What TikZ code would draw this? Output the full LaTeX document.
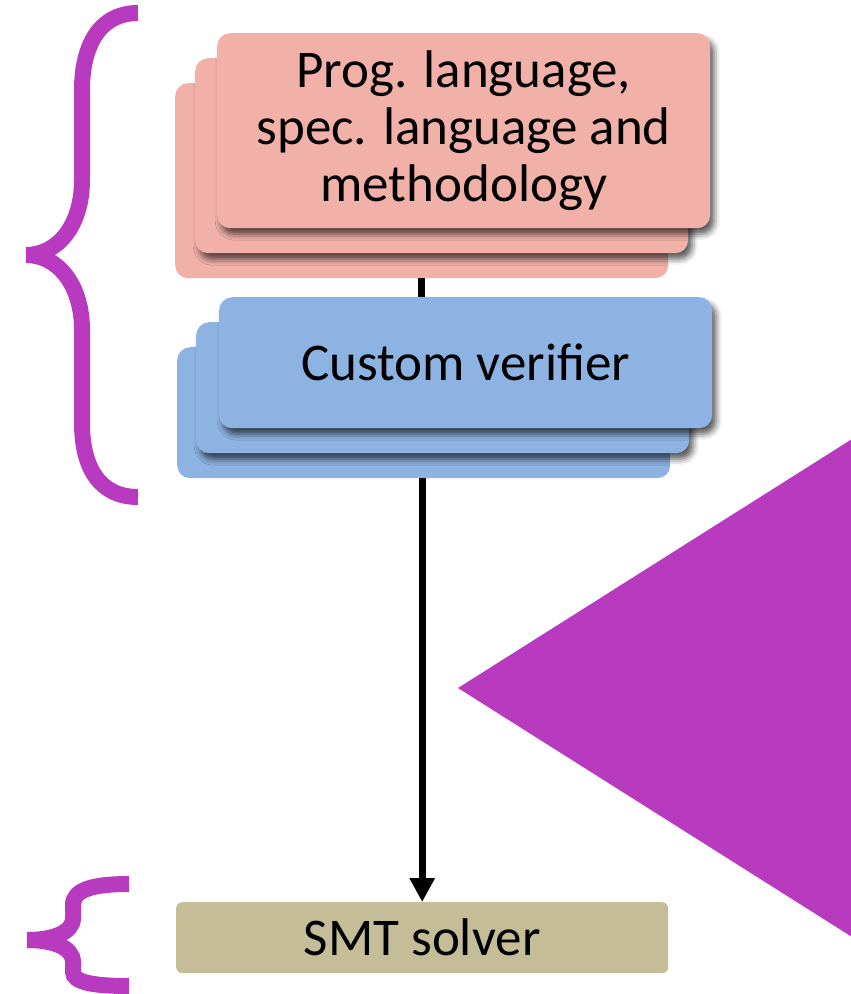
\documentclass[tikz,border=0pt]{standalone}
\usepackage{fontspec}
\setmainfont{Carlito}
\usetikzlibrary{arrows.meta,shadows.blur}
\definecolor{pinkfill}{RGB}{241,176,168}
\definecolor{bluefill}{RGB}{141,179,226}
\definecolor{tanfill}{RGB}{196,189,151}
\definecolor{accent}{RGB}{184,59,191}
\begin{document}
\begin{tikzpicture}[x=1pt,y=-1pt,
  card/.style={rounded corners=13pt, inner sep=0pt, anchor=north west,
    minimum width=493pt, align=center, font=\fontsize{53}{57}\selectfont},
  shadowed/.style={blur shadow={shadow xshift=4pt, shadow yshift=-6pt,
    shadow blur radius=6pt, shadow opacity=65}},
  pinkcard/.style={card, fill=pinkfill, minimum height=195pt},
  bluecard/.style={card, fill=bluefill, minimum height=131pt},
  link/.style={draw=black, line width=7pt},
  brace/.style={draw=accent, line width=16pt}]
\useasboundingbox (0,0) rectangle (851,994);

% language stack
\node[pinkcard] (pinkback) at (175,83) {};
\node[pinkcard, shadowed] (pinkmid) at (195,58) {};
\node[pinkcard, shadowed] (pink) at (217,33) {Prog. language,\\spec. language and\\methodology};

% verifier stack
\node[bluecard] (blueback) at (177,347) {};
\node[bluecard, shadowed] (bluemid) at (196,322) {};
\node[bluecard, shadowed] (blue) at (219,297) {Custom verifier};

% solver
\node[card, fill=tanfill, rounded corners=6pt, minimum width=492pt,
  minimum height=71pt] (smt) at (176,902) {SMT solver};

% connectors
\draw[link] (pinkback.south) -- (pinkback.south |- blue.north);
\draw[link, -{Triangle[width=24pt,length=24pt]}]
  (blueback.south -| smt.north) -- (smt.north);

% braces
\draw[brace] (138,13) .. controls (100,13) and (82,45) .. (82,90)
  -- (82,180) .. controls (82,225) and (58,255) .. (26,255);
\draw[brace] (26,255) .. controls (58,255) and (82,285) .. (82,330)
  -- (82,423) .. controls (82,468) and (100,497) .. (138,497);

\draw[brace] (129,884) .. controls (92,884) and (73,890) .. (73,905)
  -- (73,918) .. controls (73,933) and (52,940) .. (27,940);
\draw[brace] (27,940) .. controls (52,940) and (73,947) .. (73,962)
  -- (73,972) .. controls (73,982) and (92,986) .. (129,986);

% pointer
\fill[accent] (458,688) -- (860,434) -- (860,942) -- cycle;
\end{tikzpicture}
\end{document}
